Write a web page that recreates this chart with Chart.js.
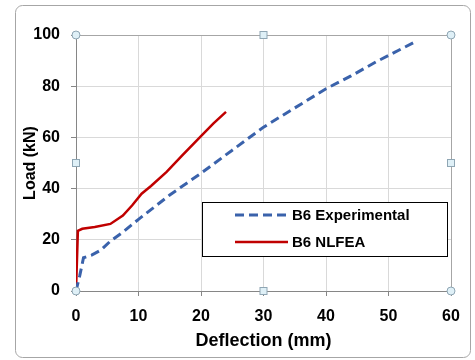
<!DOCTYPE html>
<html>
<head>
<meta charset="utf-8">
<script src="https://cdn.jsdelivr.net/npm/chart.js@4.4.1/dist/chart.umd.min.js"></script>
<style>
  html, body { margin: 0; padding: 0; background: #fff; }
  #wrap { width: 475px; height: 360px; }
</style>
</head>
<body>
<div id="wrap"><canvas id="loadChart" width="475" height="360"></canvas></div>
<script>
(function () {
  "use strict";

  var seriesNames = ["B6 Experimental", "B6 NLFEA"];
  var expX = [0, 0.6, 1.2, 2.5, 4, 5.5, 7.5, 10, 15, 20, 25, 30, 35, 40, 44, 48, 54];
  var expY = [0, 6, 13, 14, 16, 19.5, 23, 28, 37.5, 46, 55, 64, 71.5, 79, 84, 89.5, 97];
  var nlfeaX = [0, 0.3, 1, 3, 5.5, 7.5, 9, 10.5, 12, 14.5, 17, 20, 22, 24];
  var nlfeaY = [0, 23.5, 24.3, 25, 26.2, 29.5, 33.5, 38, 41, 46.5, 53, 60.5, 65.5, 70];
  var xTicks = [0, 10, 20, 30, 40, 50, 60];
  var yTicks = [0, 20, 40, 60, 80, 100];

  function pairs(xs, ys) {
    var out = [];
    for (var i = 0; i < xs.length; i++) out.push({ x: xs[i], y: ys[i] });
    return out;
  }

  var blue = "#3a62ab";
  var red = "#c00000";
  var axisGray = "#868686";
  var gridGray = "#d9d9d9";
  var font = "'Liberation Sans', Arial, sans-serif";

  // outer frame of the chart object
  var framePlugin = {
    id: "frame",
    beforeDraw: function (chart) {
      var c = chart.ctx;
      c.save();
      c.strokeStyle = "#a6a6a6";
      c.lineWidth = 1;
      c.beginPath();
      c.roundRect(15.5, 5.5, 455, 352, 7);
      c.stroke();
      c.restore();
    },
  };

  // legend box inside the plot
  var boxLegend = {
    id: "boxLegend",
    afterDatasetsDraw: function (chart) {
      var c = chart.ctx;
      var x0 = 202, y0 = 202, w = 245, h = 54;
      c.save();
      c.fillStyle = "#fff";
      c.fillRect(x0, y0, w, h);
      c.strokeStyle = "#000";
      c.lineWidth = 1;
      c.strokeRect(x0 + 0.5, y0 + 0.5, w, h);
      chart.data.datasets.forEach(function (ds, i) {
        var y = 215 + i * 27;
        c.strokeStyle = ds.borderColor;
        c.lineWidth = ds.borderWidth;
        c.setLineDash(ds.borderDash || []);
        c.beginPath();
        c.moveTo(235, y);
        c.lineTo(288, y);
        c.stroke();
        c.setLineDash([]);
        c.fillStyle = "#000";
        c.font = "bold 15px " + font;
        c.textBaseline = "middle";
        c.fillText(ds.label, 292, y + 1);
      });
      c.restore();
    },
  };

  // selection handles around the plot area
  var handles = {
    id: "handles",
    afterDraw: function (chart) {
      var a = chart.chartArea;
      var c = chart.ctx;
      var mx = (a.left + a.right) / 2, my = (a.top + a.bottom) / 2;
      c.save();
      c.fillStyle = "#dff0f7";
      c.strokeStyle = "#8fa6b4";
      c.lineWidth = 1;
      [[a.left, a.top], [a.right, a.top], [a.left, a.bottom], [a.right, a.bottom]].forEach(function (p) {
        c.beginPath();
        c.arc(p[0], p[1], 4, 0, Math.PI * 2);
        c.fill();
        c.stroke();
      });
      [[mx, a.top], [a.left, my], [a.right, my], [mx, a.bottom]].forEach(function (p) {
        c.fillRect(p[0] - 3.5, p[1] - 3.5, 7, 7);
        c.strokeRect(p[0] - 3.5, p[1] - 3.5, 7, 7);
      });
      c.restore();
    },
  };

  new Chart(document.getElementById("loadChart").getContext("2d"), {
    type: "scatter",
    data: {
      datasets: [
        {
          label: seriesNames[0],
          data: pairs(expX, expY),
          showLine: true,
          borderColor: blue,
          backgroundColor: blue,
          borderWidth: 3,
          borderDash: [9, 5],
          pointRadius: 0,
          tension: 0,
        },
        {
          label: seriesNames[1],
          data: pairs(nlfeaX, nlfeaY),
          showLine: true,
          borderColor: red,
          backgroundColor: red,
          borderWidth: 2.5,
          pointRadius: 0,
          tension: 0,
        },
      ],
    },
    options: {
      responsive: false,
      animation: false,
      layout: { padding: { top: 35, right: 24, bottom: 4, left: 17 } },
      scales: {
        x: {
          type: "linear",
          min: 0,
          max: 60,
          afterFit: function (s) { s.height = 65; },
          afterBuildTicks: function (s) {
            s.ticks = xTicks.map(function (v) { return { value: v }; });
          },
          grid: {
            color: function (ctx) { return ctx.tick && ctx.tick.value === 60 ? "#a6a6a6" : gridGray; },
            tickColor: axisGray,
            tickLength: 5,
          },
          border: { color: axisGray },
          ticks: { color: "#000", padding: 11, font: { family: font, size: 16, weight: "bold" } },
          title: {
            display: true,
            text: "Deflection (mm)",
            color: "#000",
            font: { family: font, size: 18, weight: "bold" },
          },
        },
        y: {
          min: 0,
          max: 100,
          afterFit: function (s) { s.width = 59; },
          afterBuildTicks: function (s) {
            s.ticks = yTicks.map(function (v) { return { value: v }; });
          },
          grid: {
            color: function (ctx) { return ctx.tick && ctx.tick.value === 100 ? "#a6a6a6" : gridGray; },
            tickColor: axisGray,
            tickLength: 5,
          },
          border: { color: axisGray },
          ticks: { color: "#000", padding: 11, font: { family: font, size: 16, weight: "bold" } },
          title: {
            display: true,
            text: "Load (kN)",
            color: "#000",
            font: { family: font, size: 16, weight: "bold" },
          },
        },
      },
      plugins: {
        legend: { display: false },
        tooltip: { enabled: false },
      },
    },
    plugins: [framePlugin, boxLegend, handles],
  });
})();
</script>
</body>
</html>
